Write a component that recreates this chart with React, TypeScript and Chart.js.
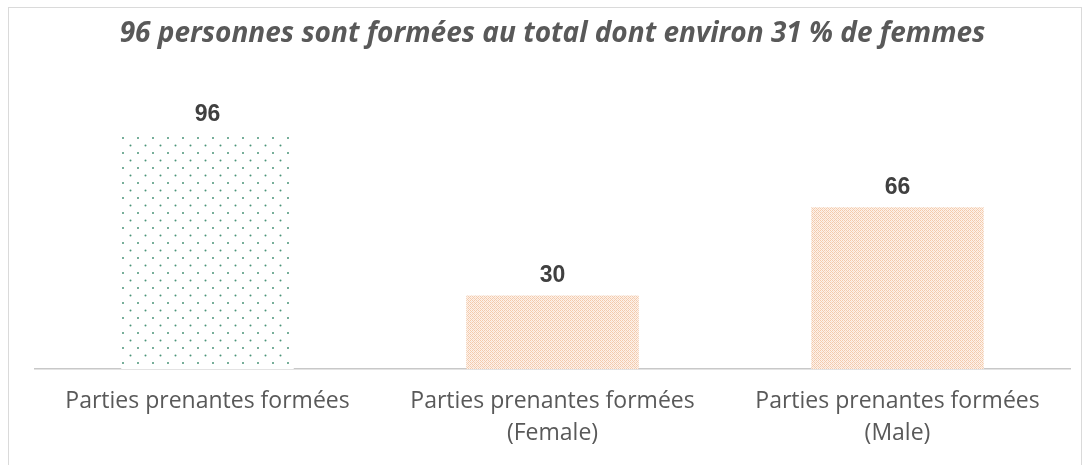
import React, { useEffect, useRef } from "react";
import { Chart, registerables } from "chart.js";

Chart.register(...registerables);

const TITLE = "96 personnes sont formées au total dont environ 31 % de femmes";
const categories: string[][] = [
  ["Parties prenantes formées"],
  ["Parties prenantes formées", "(Female)"],
  ["Parties prenantes formées", "(Male)"],
];
const values: number[] = [96, 30, 66];
const patternKinds: string[] = ["dots", "cross", "cross"];

function makeDots(): CanvasPattern | string {
  const c = document.createElement("canvas");
  c.width = 15;
  c.height = 15;
  const g = c.getContext("2d");
  if (!g) return "#e8f3ee";
  g.fillStyle = "#ffffff";
  g.fillRect(0, 0, 15, 15);
  g.fillStyle = "#4a9478";
  g.beginPath();
  g.arc(3, 3, 1.0, 0, Math.PI * 2);
  g.arc(10.5, 10.4, 1.0, 0, Math.PI * 2);
  g.fill();
  return g.createPattern(c, "repeat") || "#e8f3ee";
}

function makeCross(): CanvasPattern | string {
  const c = document.createElement("canvas");
  c.width = 4;
  c.height = 4;
  const g = c.getContext("2d");
  if (!g) return "#f6d5bf";
  g.fillStyle = "#fdf2ea";
  g.fillRect(0, 0, 4, 4);
  g.fillStyle = "#f3caac";
  g.fillRect(0, 0, 1, 1);
  g.fillRect(2, 0, 1, 1);
  g.fillRect(1, 1, 1, 1);
  g.fillRect(0, 2, 1, 1);
  g.fillRect(2, 2, 1, 1);
  g.fillRect(3, 3, 1, 1);
  g.fillStyle = "#f9dfcd";
  g.fillRect(3, 1, 1, 1);
  g.fillRect(1, 3, 1, 1);
  return g.createPattern(c, "repeat") || "#f6d5bf";
}

const framePlugin = {
  id: "frame",
  beforeDraw(chart: any) {
    const ctx = chart.ctx;
    ctx.save();
    ctx.fillStyle = "#ffffff";
    ctx.fillRect(0, 0, chart.width, chart.height);
    ctx.strokeStyle = "#dadada";
    ctx.lineWidth = 1;
    ctx.strokeRect(8.5, 7.5, 1073, 520);
    ctx.restore();
  },
};

const valueLabelPlugin = {
  id: "valueLabels",
  afterDatasetsDraw(chart: any) {
    const ctx = chart.ctx;
    const meta = chart.getDatasetMeta(0);
    ctx.save();
    ctx.font = "bold 23px 'Liberation Sans', Arial, sans-serif";
    ctx.fillStyle = "#404040";
    ctx.textAlign = "center";
    ctx.textBaseline = "bottom";
    meta.data.forEach((bar: any, i: number) => {
      ctx.fillText(String(values[i]), bar.x, bar.y - 8);
    });
    ctx.restore();
  },
};

export default function App() {
  const ref = useRef<HTMLCanvasElement>(null);
  useEffect(() => {
    document.body.style.margin = "0";
    if (!ref.current) return;
    const fills = patternKinds.map((k) => (k === "dots" ? makeDots() : makeCross()));
    const chart = new Chart(ref.current, {
      type: "bar",
      data: {
        labels: categories,
        datasets: [
          {
            data: values,
            backgroundColor: fills as any,
            borderWidth: 0,
            barPercentage: 0.5,
            categoryPercentage: 1.0,
          },
        ],
      },
      options: {
        responsive: false,
        animation: false,
        layout: { padding: { left: 35, right: 13, top: 0, bottom: 0 } },
        plugins: {
          legend: { display: false },
          tooltip: { enabled: false },
          title: {
            display: true,
            text: TITLE,
            color: "#595959",
            font: { family: "'Open Sans', sans-serif", size: 28, weight: "bold", style: "italic", lineHeight: 1.2 },
            padding: { top: 17, bottom: 73.4 },
          },
        },
        scales: {
          x: {
            grid: { display: false, drawTicks: false },
            border: { display: true, color: "#c8c8c8", width: 1.5 },
            ticks: {
              color: "#595959",
              font: { family: "'Open Sans', sans-serif", size: 23, lineHeight: 1.39 },
              padding: 16,
              maxRotation: 0,
              autoSkip: false,
            },
          },
          y: {
            display: false,
            min: 0,
            max: 100,
          },
        },
      },
      plugins: [framePlugin, valueLabelPlugin],
    });
    return () => chart.destroy();
  }, []);
  return (
    <div style={{ width: 1083, height: 465, overflow: "hidden" }}>
      <canvas ref={ref} width={1083} height={465} style={{ display: "block" }} />
    </div>
  );
}
